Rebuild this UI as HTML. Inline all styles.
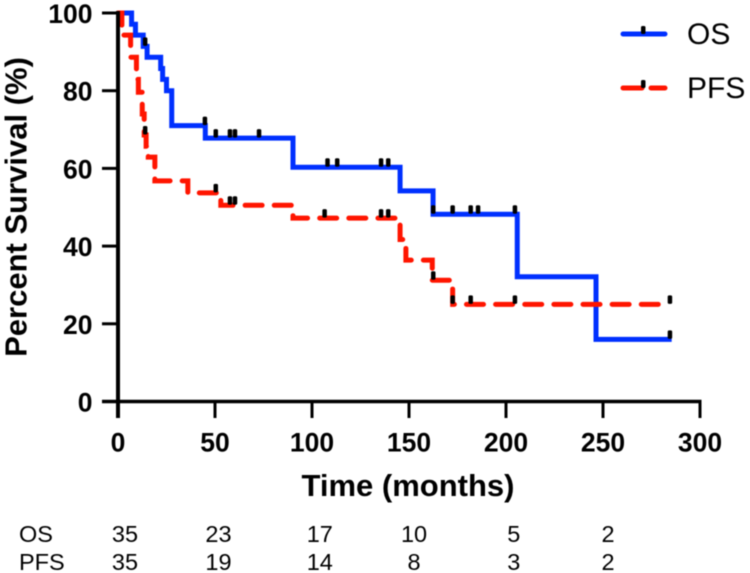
<!DOCTYPE html>
<html lang="en">
<head>
<meta charset="utf-8">
<title>Kaplan-Meier survival chart</title>
<style>
html,body{margin:0;padding:0;background:#fff;}
#chart{display:block;filter:blur(0.5px);}
text{font-family:"Liberation Sans",Arial,sans-serif;fill:#000;}
.tick{font-weight:bold;font-size:26.5px;}
.risk{font-size:23.5px;}
</style>
</head>
<body>
<svg id="chart" xmlns="http://www.w3.org/2000/svg" width="750" height="573" viewBox="0 0 750 573">
<rect width="750" height="573" fill="#fff"/>
<g id="series"></g>
<g id="axes"></g>
<text transform="translate(26.5,207) rotate(-90)" text-anchor="middle" font-weight="bold" font-size="31">Percent Survival (%)</text>
<text x="408" y="496" text-anchor="middle" font-weight="bold" font-size="31">Time (months)</text>
<g>
<line x1="623" y1="34" x2="665" y2="34" stroke="#0030ff" stroke-width="5" stroke-linecap="round"/>
<rect x="641" y="26" width="4.5" height="8" rx="1.5" fill="#000"/>
<text x="687" y="44" font-size="30">OS</text>
<line x1="623" y1="88" x2="642" y2="88" stroke="#ff1500" stroke-width="5" stroke-linecap="round"/>
<line x1="651" y1="88" x2="665" y2="88" stroke="#ff1500" stroke-width="5" stroke-linecap="round"/>
<rect x="641" y="80" width="4.5" height="8" rx="1.5" fill="#000"/>
<text x="687" y="98" font-size="30">PFS</text>
</g>
<g id="risk">
<text class="risk" x="19" y="542">OS</text>
<text class="risk" x="19" y="570">PFS</text>
</g>
</svg>
<script>
const osTimes = [0, 7, 9, 13, 15, 22, 23, 25, 27.7, 45, 90.2, 145.4, 162.4, 205.8, 246.4, 285.4];
const osValues = [100, 97.1, 94.3, 91.4, 88.6, 85.7, 82.9, 80, 71, 67.8, 60.3, 54.2, 48.2, 32.1, 16, 16];
const pfsTimes = [0, 2, 6.5, 9.5, 10.5, 12.5, 13.5, 14.5, 15.6, 19, 36, 53, 90.2, 145.4, 148.4, 162, 172.5, 280];
const pfsValues = [100, 94.3, 88.6, 82.9, 79.6, 74, 68.6, 65.7, 62.9, 56.8, 53.7, 50.5, 47.2, 41.7, 36.4, 31.2, 25, 25];
const osCensorTimes = [14, 44.8, 50.4, 57.7, 60.3, 72.7, 108, 113, 135.6, 139.3, 162.5, 172.5, 181.8, 185.6, 204.6, 284.5];
const pfsCensorTimes = [14, 50.4, 57.7, 60.3, 106.5, 135.6, 139.3, 162.5, 172.5, 181.8, 204.6, 284.5];
const xTicks = [0, 50, 100, 150, 200, 250, 300];
const yTicks = [0, 20, 40, 60, 80, 100];
const osAtRisk = ['35', '23', '17', '10', '5', '2'];
const pfsAtRisk = ['35', '19', '14', '8', '3', '2'];
const riskTimes = [3.6, 51.8, 104, 152.6, 204, 252.6];

const NS = 'http://www.w3.org/2000/svg';
const xScale = t => 118 + t * 1.94;
const yScale = v => 401.5 - v * 3.885;

function make(tag, attrs, parent, txt) {
  const el = document.createElementNS(NS, tag);
  for (const k in attrs) el.setAttribute(k, attrs[k]);
  if (txt !== undefined) el.textContent = txt;
  parent.appendChild(el);
  return el;
}
function stepPath(ts, vs) {
  let d = 'M' + xScale(ts[0]) + ' ' + yScale(vs[0]);
  for (let i = 1; i < ts.length; i++) {
    d += 'H' + xScale(ts[i]) + 'V' + yScale(vs[i]);
  }
  return d;
}
function valueAt(ts, vs, t) {
  let v = vs[0];
  for (let i = 0; i < ts.length; i++) if (ts[i] <= t) v = vs[i];
  return v;
}

const series = document.getElementById('series');
const axes = document.getElementById('axes');
const risk = document.getElementById('risk');

const osLine = make('path', {d: stepPath(osTimes, osValues), fill: 'none', stroke: '#0030ff', 'stroke-width': 5, 'stroke-linejoin': 'miter'}, series);



const pfsLine = make('path', {d: stepPath(pfsTimes, pfsValues), fill: 'none', stroke: '#ff1500', 'stroke-width': 5, 'stroke-dasharray': '17 12.13', 'stroke-dashoffset': 1, 'stroke-linecap': 'round'}, series);



osCensorTimes.forEach(t => {
  const y = yScale(valueAt(osTimes, osValues, t));
  const m = make('rect', {x: xScale(t) - 2.25, y: y - 9, width: 4.5, height: 8.5, rx: 1.5, fill: '#000'}, series);
  
  
});
pfsCensorTimes.forEach(t => {
  const y = yScale(valueAt(pfsTimes, pfsValues, t));
  const m = make('rect', {x: xScale(t) - 2.25, y: y - 9, width: 4.5, height: 8.5, rx: 1.5, fill: '#000'}, series);
  
  
});

const yAxisLine = make('line', {x1: xScale(0), x2: xScale(0), y1: yScale(100) - 2, y2: 418, stroke: '#000', 'stroke-width': 4}, axes);


const xAxisLine = make('line', {x1: 102, x2: xScale(300) + 1.5, y1: yScale(0), y2: yScale(0), stroke: '#000', 'stroke-width': 3.5}, axes);



yTicks.forEach(v => {
  const l = make('line', {x1: 102, x2: xScale(0), y1: yScale(v), y2: yScale(v), stroke: '#000', 'stroke-width': 3}, axes);
  
  
  const t = make('text', {class: 'tick', x: 92.5, y: yScale(v) + 10, 'text-anchor': 'end'}, axes, String(v));
  
  
});
xTicks.forEach(v => {
  const l = make('line', {x1: xScale(v), x2: xScale(v), y1: yScale(0), y2: 418, stroke: '#000', 'stroke-width': 3}, axes);
  
  
  const t = make('text', {class: 'tick', x: xScale(v), y: 451.5, 'text-anchor': 'middle'}, axes, String(v));
  
  
});
riskTimes.forEach((t, i) => {
  const a = make('text', {class: 'risk', x: xScale(t), y: 542, 'text-anchor': 'middle'}, risk, osAtRisk[i]);
  
  
  const b = make('text', {class: 'risk', x: xScale(t), y: 570, 'text-anchor': 'middle'}, risk, pfsAtRisk[i]);
  
  
});
</script>
</body>
</html>
